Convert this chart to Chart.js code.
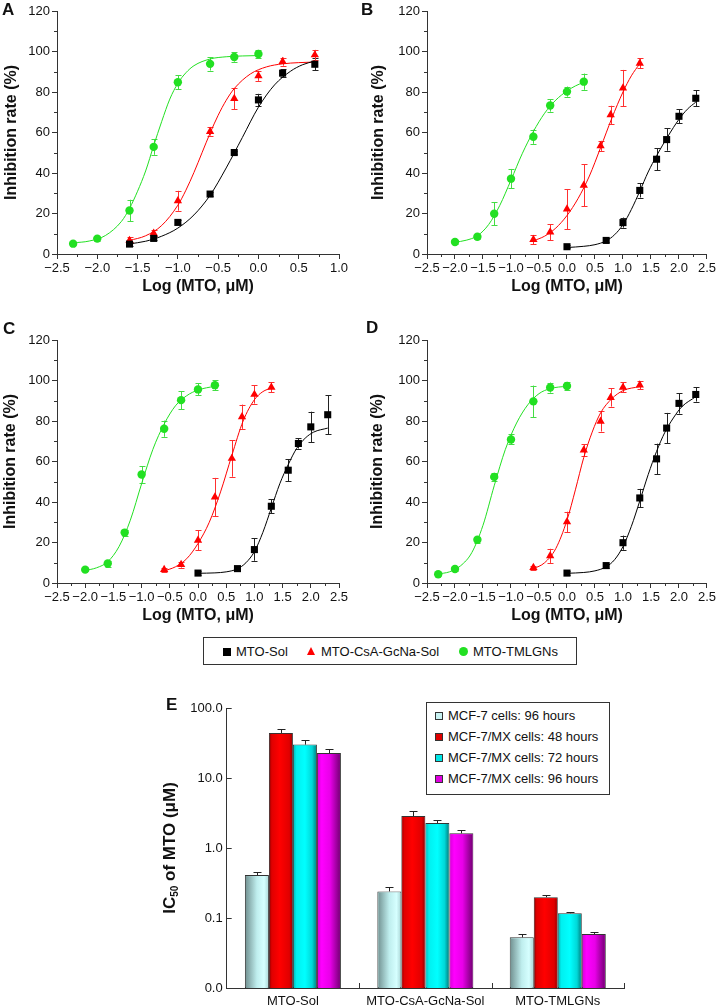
<!DOCTYPE html>
<html>
<head>
<meta charset="utf-8">
<script src="https://cdn.jsdelivr.net/npm/chart.js@4.4.1/dist/chart.umd.min.js"></script>
<style>
html,body{margin:0;padding:0;background:#fff;}
body{width:718px;height:1007px;position:relative;overflow:hidden;font-family:'Liberation Sans',Arial,sans-serif;color:#111;}
canvas{position:absolute;}
.plab{position:absolute;font-weight:bold;font-size:17px;line-height:17px;color:#111;}
.box{position:absolute;border:1px solid #333;background:#fff;}
.it{position:absolute;font-size:13px;line-height:15px;white-space:nowrap;color:#111;}
.mk{position:absolute;}
</style>
</head>
<body>
<canvas id="cA" width="359" height="300" style="left:0;top:0"></canvas>
<canvas id="cB" width="359" height="300" style="left:359px;top:0"></canvas>
<canvas id="cC" width="359" height="329" style="left:0;top:300px"></canvas>
<canvas id="cD" width="359" height="329" style="left:359px;top:300px"></canvas>
<canvas id="cE" width="578" height="317" style="left:140px;top:690px"></canvas>

<div class="plab" style="left:2px;top:1px">A</div>
<div class="plab" style="left:361px;top:1px">B</div>
<div class="plab" style="left:3px;top:320px">C</div>
<div class="plab" style="left:366px;top:319px">D</div>
<div class="plab" style="left:166px;top:696px">E</div>

<div class="box" style="left:203px;top:637px;width:372px;height:26px">
  <div class="mk" style="left:19px;top:10px;width:8px;height:8px;background:#000"></div>
  <div class="it" style="left:32px;top:6px">MTO-Sol</div>
  <div class="mk" style="left:103px;top:9px;width:0;height:0;border-left:4.5px solid transparent;border-right:4.5px solid transparent;border-bottom:8px solid #ff0000"></div>
  <div class="it" style="left:117px;top:6px">MTO-CsA-GcNa-Sol</div>
  <div class="mk" style="left:255px;top:9px;width:9px;height:9px;border-radius:50%;background:#22e022"></div>
  <div class="it" style="left:269px;top:6px">MTO-TMLGNs</div>
</div>

<div class="box" style="left:426px;top:702px;width:182px;height:91px">
  <div class="mk" style="left:8px;top:9px;width:6px;height:6px;border:1px solid #333;background:#c8f2f2"></div>
  <div class="it" style="left:21px;top:5px">MCF-7 cells: 96 hours</div>
  <div class="mk" style="left:8px;top:30px;width:6px;height:6px;border:1px solid #333;background:#e00000"></div>
  <div class="it" style="left:21px;top:26px">MCF-7/MX cells: 48 hours</div>
  <div class="mk" style="left:8px;top:51px;width:6px;height:6px;border:1px solid #333;background:#00e6e6"></div>
  <div class="it" style="left:21px;top:47px">MCF-7/MX cells: 72 hours</div>
  <div class="mk" style="left:8px;top:72px;width:6px;height:6px;border:1px solid #333;background:#e000e0"></div>
  <div class="it" style="left:21px;top:68px">MCF-7/MX cells: 96 hours</div>
</div>

<div style="position:absolute;left:172px;top:848px;width:0;height:0;">
  <div style="position:absolute;left:0;top:0;transform:translate(-50%,-50%) rotate(-90deg);font-weight:bold;font-size:17px;white-space:nowrap;color:#111;line-height:20px">IC<sub style="font-size:10px;vertical-align:-3px">50</sub> of MTO (μM)</div>
</div>

<script>
// ---------- Data: log doses (x) ----------
const doseGreenA = [-2.3,-2.0,-1.6,-1.3,-1.0,-0.6,-0.3,0.0];
const doseLowA   = [-1.6,-1.3,-1.0,-0.6,-0.3,0.0,0.3,0.7];
const doseGreen  = [-2.0,-1.6,-1.3,-1.0,-0.6,-0.3,0.0,0.3];
const doseRed    = [-0.6,-0.3,0.0,0.3,0.6,0.78,1.0,1.3];
const doseBlack  = [0.0,0.7,1.0,1.3,1.6,1.78,2.0,2.3];

// ---------- Panel A ----------
const solA = [4.9,7.7,15.6,29.6,50.1,76.1,89.3,93.7];
const solAErr = [0.8,1,1,1,0.8,3,2,3];
const csaA = [6.7,10.2,26.3,60.5,76.8,88,95,98.3];
const csaAErr = [1.5,1.5,4.9,2,5.2,2.5,2,2.5];
const tmlA = [5.1,7.6,21.5,52.9,84.8,93.9,97.3,98.8];
const tmlAErr = [0.8,1,5.3,3.9,3.5,3.3,2.3,2];
const fitSolA = [[-1.6,5.0],[-1.4,6.3],[-1.2,8.8],[-1.0,12.8],[-0.8,19.3],[-0.6,29],[-0.4,42.5],[-0.2,57.5],[0.0,72.5],[0.2,83.5],[0.4,90.3],[0.55,93.5],[0.7,95.3]];
const fitCsaA = [[-1.6,6.7],[-1.4,9.0],[-1.2,14.1],[-1.0,24.1],[-0.9,31.5],[-0.8,40.3],[-0.7,50],[-0.6,59.7],[-0.5,68.5],[-0.4,75.9],[-0.3,81.7],[-0.1,88.9],[0.1,92.4],[0.3,93.9],[0.5,94.5],[0.7,94.8]];
const fitTmlA = [[-2.3,5.5],[-2.1,6.4],[-1.9,9.1],[-1.7,16.1],[-1.6,22.5],[-1.5,31],[-1.4,41],[-1.3,53.5],[-1.2,65.5],[-1.1,76.5],[-1.0,84.3],[-0.9,89.5],[-0.8,93],[-0.6,96.3],[-0.4,97.4],[-0.2,97.8],[0.0,98]];

// ---------- Panel B ----------
const solB = [3.6,6.7,15.5,31.4,46.8,56.5,68,76.9];
const solBErr = [0.8,1,2.5,3.5,5.5,5.5,3.5,4];
const csaB = [7.1,10.8,22.2,33.9,53.4,68.7,81.9,94.2];
const csaBErr = [2.3,4,9.9,10.3,2.5,4.5,9,2.5];
const tmlB = [5.9,8.5,19.9,37.2,57.9,73.3,80.2,85.1];
const tmlBErr = [0.8,1,5.7,4.8,3.5,3,2.5,4];
const fitSolB = [[0.0,3.2],[0.3,3.8],[0.5,4.6],[0.7,6.5],[0.85,9.5],[1.0,14.5],[1.15,22],[1.3,31],[1.45,40.5],[1.6,48.5],[1.8,58],[2.0,66.5],[2.15,71.5],[2.3,75]];
const fitCsaB = [[-0.6,6.5],[-0.4,8.8],[-0.2,12.8],[0.0,19],[0.2,27.5],[0.4,38.5],[0.6,52.5],[0.8,67],[1.0,80],[1.15,88],[1.3,94]];
const fitTmlB = [[-2.0,5.8],[-1.8,6.8],[-1.6,9.0],[-1.4,14.5],[-1.2,24],[-1.0,36.5],[-0.8,49.5],[-0.6,60.5],[-0.4,69.5],[-0.2,76],[0.0,80.5],[0.15,83],[0.3,84.8]];

// ---------- Panel C ----------
const solC = [4.9,7.1,16.5,37.9,55.7,68.9,77.1,83.1];
const solCErr = [0.8,1,5.5,3.5,5.5,2.5,7.5,9.7];
const csaC = [6.6,9.1,21.1,42.4,61.5,82.1,93.1,96.6];
const csaCErr = [1,1.5,5,9.5,9,6,4.5,2.5];
const tmlC = [6.6,9.6,24.9,53.6,76.2,90.3,95.6,97.7];
const tmlCErr = [0.8,1.5,1.5,4,4,4.5,3,2.5];
const fitSolC = [[0.0,4.8],[0.3,5.0],[0.5,5.5],[0.7,7],[0.85,10],[1.0,15.5],[1.15,25],[1.3,37],[1.45,49],[1.6,58.5],[1.75,66.5],[1.9,71.5],[2.05,74.5],[2.3,76.5]];
const fitCsaC = [[-0.6,6.0],[-0.4,8],[-0.2,12],[0.0,19.5],[0.2,30],[0.4,45],[0.6,63],[0.8,80],[1.0,90.5],[1.15,94.5],[1.3,96.3]];
const fitTmlC = [[-2.0,6.2],[-1.8,7.5],[-1.6,10.5],[-1.4,18],[-1.2,31],[-1.0,49],[-0.8,66],[-0.6,78.5],[-0.4,87.5],[-0.2,92.5],[0.0,95.3],[0.3,97.2]];

// ---------- Panel D ----------
const solD = [4.9,8.6,19.9,42,61.3,76.5,88.7,93.1];
const solDErr = [0.8,1,3.5,4.5,7.5,7.5,5,3.5];
const csaD = [7.6,13.4,30.2,65.6,79.8,91.6,96.6,97.7];
const csaDErr = [1,3.5,5,3,5,4.5,2.5,2];
const tmlD = [4.3,6.9,21.4,52.4,70.9,89.7,96.5,97.3];
const tmlDErr = [0.8,1,1.5,2,2.5,7.8,2.5,2];
const fitSolD = [[0.0,4.8],[0.3,5.2],[0.5,6],[0.7,8],[0.85,11.5],[1.0,18],[1.15,28],[1.3,40.5],[1.45,53.5],[1.6,65],[1.75,74.5],[1.9,81.5],[2.05,87],[2.3,92]];
const fitCsaD = [[-0.6,7],[-0.4,10],[-0.2,17],[0.0,31],[0.15,46],[0.3,62],[0.45,74.5],[0.6,84],[0.8,91],[1.0,95],[1.3,97]];
const fitTmlD = [[-2.3,4.5],[-2.1,5.5],[-1.9,8.5],[-1.7,15],[-1.5,28.5],[-1.3,48],[-1.1,66],[-0.9,79],[-0.7,88],[-0.5,93.5],[-0.3,96],[0.0,97.2]];

// ---------- Panel E ----------
const groupsE = ['MTO-Sol','MTO-CsA-GcNa-Sol','MTO-TMLGNs'];
const seriesNamesE = ['MCF-7 cells: 96 hours','MCF-7/MX cells: 48 hours','MCF-7/MX cells: 72 hours','MCF-7/MX cells: 96 hours'];
const ic50Mcf7_96 = [0.41,0.24,0.053];
const ic50Mcf7_96Err = [0.045,0.035,0.006];
const ic50Mx_48 = [44,2.86,0.198];
const ic50Mx_48Err = [6,0.55,0.015];
const ic50Mx_72 = [30,2.27,0.117];
const ic50Mx_72Err = [4.6,0.27,0.003];
const ic50Mx_96 = [22.7,1.62,0.059];
const ic50Mx_96Err = [3,0.21,0.005];
const yTicksE = [0.01,0.1,1,10,100];

// ---------- styling ----------
const FONT = "'Liberation Sans', Arial, sans-serif";
Chart.defaults.font.family = FONT;
Chart.defaults.color = '#111';
const GREEN = '#22e022', RED = '#ff0000', BLACK = '#000000';
const AX = '#333333';

const errPlugin = {
  id: 'errPlugin',
  beforeDatasetsDraw(chart) {
    const ctx = chart.ctx, ys = chart.scales.y;
    ctx.save();
    ctx.beginPath();
    ctx.rect(chart.chartArea.left, chart.chartArea.top - 4, chart.chartArea.width, chart.chartArea.height + 4);
    ctx.clip();
    chart.data.datasets.forEach((ds, di) => {
      if (!ds.errors) return;
      const meta = chart.getDatasetMeta(di);
      ctx.strokeStyle = ds.errColor; ctx.lineWidth = 1;
      meta.data.forEach((el, i) => {
        const v = ds.data[i].y, e = ds.errors[i];
        const x = Math.round(el.x) + 0.5;
        const y1 = ys.getPixelForValue(v + e), y2 = ys.getPixelForValue(v - e);
        ctx.beginPath();
        ctx.moveTo(x, y1); ctx.lineTo(x, y2);
        ctx.moveTo(x - 3, Math.round(y1) + 0.5); ctx.lineTo(x + 3, Math.round(y1) + 0.5);
        ctx.moveTo(x - 3, Math.round(y2) + 0.5); ctx.lineTo(x + 3, Math.round(y2) + 0.5);
        ctx.stroke();
      });
    });
    ctx.restore();
  }
};

const minorTicks = {
  id: 'minorTicks',
  afterDraw(chart) {
    const ctx = chart.ctx, x = chart.scales.x, y = chart.scales.y;
    ctx.save();
    ctx.strokeStyle = AX; ctx.lineWidth = 1;
    ctx.beginPath();
    for (let v = x.min + 0.25; v < x.max; v += 0.5) {
      const px = Math.round(x.getPixelForValue(v)) + 0.5;
      ctx.moveTo(px, y.bottom); ctx.lineTo(px, y.bottom + 3);
    }
    for (let v = 10; v < 120; v += 20) {
      const py = Math.round(y.getPixelForValue(v)) + 0.5;
      ctx.moveTo(x.left, py); ctx.lineTo(x.left - 3, py);
    }
    ctx.stroke();
    ctx.restore();
  }
};

function fmtLog(v) {
  if (Math.abs(v) < 1e-9) return '0.0';
  const s = v.toFixed(1);
  return s.replace('-', '\u2212');
}

function pointsDs(xs, ys, errs, color, errColor, style, radius) {
  return {
    type: 'scatter', showLine: false,
    data: xs.map((x, i) => ({x: x, y: ys[i]})),
    errors: errs, errColor: errColor,
    pointStyle: style, pointRadius: radius, pointHoverRadius: radius,
    backgroundColor: color, borderColor: color, borderWidth: 0
  };
}
function fitDs(pairs, color) {
  return {
    type: 'line',
    data: pairs.map(p => ({x: p[0], y: p[1]})),
    borderColor: color, borderWidth: 1, pointRadius: 0, fill: false,
    cubicInterpolationMode: 'monotone'
  };
}

function curveChart(id, cfg) {
  const tickFont = {size: 13};
  const titleFont = {size: 16, weight: 'bold'};
  return new Chart(document.getElementById(id), {
    type: 'scatter',
    data: {
      datasets: [
        pointsDs(cfg.xSol, cfg.sol, cfg.solErr, BLACK, '#222', 'rect', 5),
        pointsDs(cfg.xCsa, cfg.csa, cfg.csaErr, RED, '#ff3030', 'triangle', 4.8),
        pointsDs(cfg.xTml, cfg.tml, cfg.tmlErr, GREEN, '#44dd44', 'circle', 4.2),
        fitDs(cfg.fitSol, BLACK),
        fitDs(cfg.fitCsa, RED),
        fitDs(cfg.fitTml, GREEN)
      ]
    },
    options: {
      responsive: false, animation: false,
      layout: {padding: {left: 0, right: cfg.padRight, top: cfg.padTop, bottom: 0}},
      plugins: {legend: {display: false}, tooltip: {enabled: false}},
      scales: {
        x: {
          type: 'linear', min: -2.5, max: cfg.xMax,
          ticks: {stepSize: 0.5, callback: v => fmtLog(v), font: tickFont, color: '#111', padding: 2, autoSkip: false, maxRotation: 0, includeBounds: true},
          grid: {drawOnChartArea: false, tickLength: 5, color: AX, tickWidth: 1},
          border: {color: AX, width: 1},
          title: {display: true, text: 'Log (MTO, μM)', font: titleFont, color: '#111', padding: {top: 0, bottom: cfg.xTitlePad}},
          afterFit: s => { s.height = cfg.xHeight; }
        },
        y: {
          min: 0, max: 120,
          ticks: {stepSize: 20, font: tickFont, color: '#111', padding: 2},
          grid: {drawOnChartArea: false, tickLength: 5, color: AX, tickWidth: 1},
          border: {color: AX, width: 1},
          title: {display: true, text: 'Inhibition rate (%)', font: titleFont, color: '#111', padding: {top: cfg.yTitlePad, bottom: 0}},
          afterFit: s => { s.width = cfg.yWidth; }
        }
      }
    },
    plugins: [errPlugin, minorTicks]
  });
}

curveChart('cA', {xSol: doseLowA, sol: solA, solErr: solAErr, xCsa: doseLowA, csa: csaA, csaErr: csaAErr, xTml: doseGreenA, tml: tmlA, tmlErr: tmlAErr,
  fitSol: fitSolA, fitCsa: fitCsaA, fitTml: fitTmlA, xMax: 1.0, padRight: 20, padTop: 11, yWidth: 57, xHeight: 46, yTitlePad: 2.4, xTitlePad: 3.4});
curveChart('cB', {xSol: doseBlack, sol: solB, solErr: solBErr, xCsa: doseRed, csa: csaB, csaErr: csaBErr, xTml: doseGreen, tml: tmlB, tmlErr: tmlBErr,
  fitSol: fitSolB, fitCsa: fitCsaB, fitTml: fitTmlB, xMax: 2.5, padRight: 9, padTop: 11, yWidth: 68, xHeight: 46, yTitlePad: 10.4, xTitlePad: 3.4});
curveChart('cC', {xSol: doseBlack, sol: solC, solErr: solCErr, xCsa: doseRed, csa: csaC, csaErr: csaCErr, xTml: doseGreen, tml: tmlC, tmlErr: tmlCErr,
  fitSol: fitSolC, fitCsa: fitCsaC, fitTml: fitTmlC, xMax: 2.5, padRight: 20, padTop: 40, yWidth: 57, xHeight: 46, yTitlePad: 1.4, xTitlePad: 3.4});
curveChart('cD', {xSol: doseBlack, sol: solD, solErr: solDErr, xCsa: doseRed, csa: csaD, csaErr: csaDErr, xTml: doseGreenA, tml: tmlD, tmlErr: tmlDErr,
  fitSol: fitSolD, fitCsa: fitCsaD, fitTml: fitTmlD, xMax: 2.5, padRight: 9, padTop: 40, yWidth: 68, xHeight: 46, yTitlePad: 9.4, xTitlePad: 3.4});

// ---------- Panel E ----------
const shadesE = [
  [[0,'#6f8e8e'],[0.5,'#bfeeee'],[0.8,'#d6ffff'],[1,'#a8d4d4']],
  [[0,'#8a0000'],[0.12,'#e00000'],[0.45,'#ff0000'],[0.85,'#e00000'],[1,'#8c0000']],
  [[0,'#00b4b4'],[0.15,'#00f0f0'],[0.5,'#00ffff'],[0.8,'#00d8d8'],[1,'#007a7a']],
  [[0,'#d400d4'],[0.2,'#ff00ff'],[0.55,'#e800e8'],[1,'#6e006e']]
];
const baseE = ['#c8f2f2','#e00000','#00e6e6','#e000e0'];
const valsE = [ic50Mcf7_96, ic50Mx_48, ic50Mx_72, ic50Mx_96];
const errsE = [ic50Mcf7_96Err, ic50Mx_48Err, ic50Mx_72Err, ic50Mx_96Err];

const barPlugin = {
  id: 'barPlugin',
  afterDatasetsDraw(chart) {
    const ctx = chart.ctx, ys = chart.scales.y;
    ctx.save();
    chart.data.datasets.forEach((ds, di) => {
      const meta = chart.getDatasetMeta(di);
      meta.data.forEach((el, i) => {
        const p = el.getProps(['x','y','base','width'], true);
        const l = p.x - p.width / 2;
        const g = ctx.createLinearGradient(l, 0, l + p.width, 0);
        ds.shade.forEach(s => g.addColorStop(s[0], s[1]));
        ctx.fillStyle = g;
        ctx.fillRect(l + 1, p.y + 1, p.width - 2, p.base - p.y - 1);
        // error bar (upper)
        const yt = Math.round(ys.getPixelForValue(ds.data[i] + ds.errors[i])) + 0.5;
        const xc = Math.round(p.x) + 0.5;
        ctx.strokeStyle = '#222'; ctx.lineWidth = 1;
        ctx.beginPath();
        ctx.moveTo(xc, p.y); ctx.lineTo(xc, yt);
        ctx.moveTo(xc - 4, yt); ctx.lineTo(xc + 4, yt);
        ctx.stroke();
      });
    });
    ctx.restore();
  },
  afterDraw(chart) {
    const ctx = chart.ctx, x = chart.scales.x, y = chart.scales.y;
    ctx.save();
    ctx.strokeStyle = AX; ctx.lineWidth = 1;
    ctx.beginPath();
    yTicksE.forEach(v => {
      const py = Math.round(y.getPixelForValue(v)) + 0.5;
      ctx.moveTo(x.left, py); ctx.lineTo(x.left + 5, py);
    });
    const n = chart.data.labels.length;
    const step = x.getPixelForValue(1) - x.getPixelForValue(0);
    for (let i = 0; i < n; i++) {
      const px = Math.round(x.getPixelForValue(i) + step / 2) + 0.5;
      ctx.moveTo(px, y.bottom); ctx.lineTo(px, y.bottom - 5);
    }
    ctx.stroke();
    ctx.restore();
  }
};

new Chart(document.getElementById('cE'), {
  type: 'bar',
  data: {
    labels: groupsE,
    datasets: valsE.map((vals, k) => ({
      label: seriesNamesE[k],
      data: vals,
      errors: errsE[k],
      shade: shadesE[k],
      backgroundColor: baseE[k],
      borderColor: '#333',
      borderWidth: 1,
      borderSkipped: false,
      categoryPercentage: 0.725,
      barPercentage: 1.0
    }))
  },
  options: {
    responsive: false, animation: false,
    layout: {padding: {left: 0, right: 94, top: 18, bottom: 0}},
    plugins: {legend: {display: false}, tooltip: {enabled: false}},
    scales: {
      x: {
        grid: {display: false, drawTicks: false},
        border: {color: AX, width: 1},
        ticks: {font: {size: 13}, color: '#111', padding: 6, maxRotation: 0, autoSkip: false},
        afterFit: s => { s.height = 19; }
      },
      y: {
        type: 'logarithmic', min: 0.01, max: 100,
        afterBuildTicks: s => { s.ticks = yTicksE.map(v => ({value: v})); },
        ticks: {font: {size: 13}, color: '#111', padding: 4, autoSkip: false,
          callback: v => (v < 0.05 ? '0.0' : Number(v).toFixed(1))},
        grid: {display: false, drawTicks: false},
        border: {color: AX, width: 1},
        afterFit: s => { s.width = 86.7; }
      }
    }
  },
  plugins: [barPlugin]
});
</script>
</body>
</html>
